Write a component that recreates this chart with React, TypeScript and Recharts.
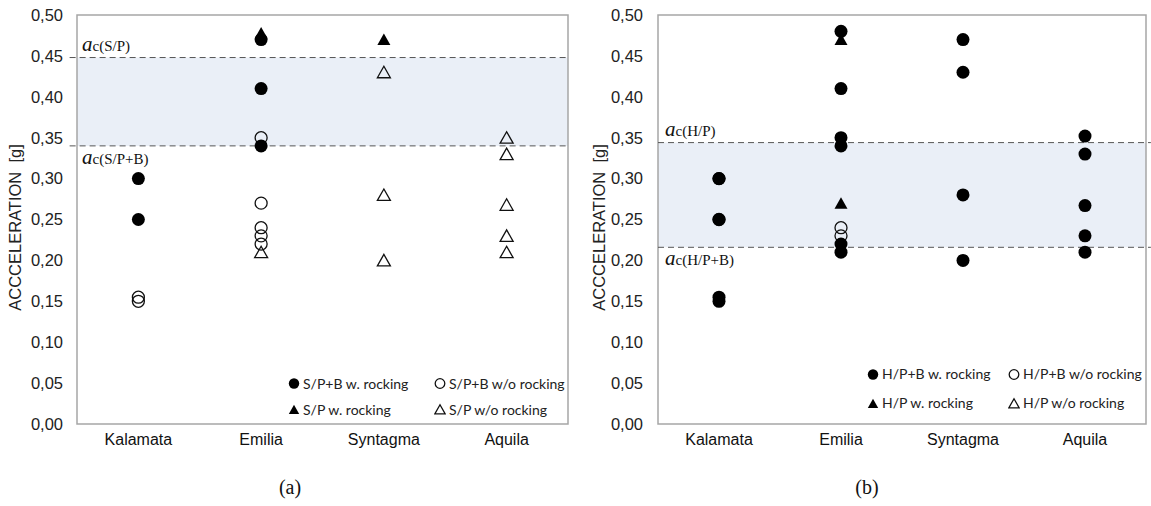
import React from "react";
import {
  ScatterChart,
  Scatter,
  XAxis,
  YAxis,
  ReferenceArea,
  ReferenceLine,
  Legend,
} from "recharts";

const sites = ["Kalamata", "Emilia", "Syntagma", "Aquila"];
const yTicks = [0, 0.05, 0.1, 0.15, 0.2, 0.25, 0.3, 0.35, 0.4, 0.45, 0.5];

type Row = { site: string; acc: number };

// panel (a): S/P and S/P+B
const spbRockA: Row[] = [
  { site: "Kalamata", acc: 0.3 },
  { site: "Kalamata", acc: 0.25 },
  { site: "Emilia", acc: 0.47 },
  { site: "Emilia", acc: 0.41 },
  { site: "Emilia", acc: 0.34 },
];
const spbNoRockA: Row[] = [
  { site: "Kalamata", acc: 0.155 },
  { site: "Kalamata", acc: 0.15 },
  { site: "Emilia", acc: 0.35 },
  { site: "Emilia", acc: 0.27 },
  { site: "Emilia", acc: 0.24 },
  { site: "Emilia", acc: 0.23 },
  { site: "Emilia", acc: 0.22 },
];
const spRockA: Row[] = [
  { site: "Emilia", acc: 0.478 },
  { site: "Syntagma", acc: 0.47 },
];
const spNoRockA: Row[] = [
  { site: "Emilia", acc: 0.21 },
  { site: "Syntagma", acc: 0.43 },
  { site: "Syntagma", acc: 0.28 },
  { site: "Syntagma", acc: 0.2 },
  { site: "Aquila", acc: 0.35 },
  { site: "Aquila", acc: 0.33 },
  { site: "Aquila", acc: 0.268 },
  { site: "Aquila", acc: 0.23 },
  { site: "Aquila", acc: 0.21 },
];

// panel (b): H/P and H/P+B
const hpbRockB: Row[] = [
  { site: "Kalamata", acc: 0.3 },
  { site: "Kalamata", acc: 0.25 },
  { site: "Kalamata", acc: 0.155 },
  { site: "Kalamata", acc: 0.15 },
  { site: "Emilia", acc: 0.48 },
  { site: "Emilia", acc: 0.41 },
  { site: "Emilia", acc: 0.35 },
  { site: "Emilia", acc: 0.34 },
  { site: "Emilia", acc: 0.22 },
  { site: "Emilia", acc: 0.21 },
  { site: "Syntagma", acc: 0.47 },
  { site: "Syntagma", acc: 0.43 },
  { site: "Syntagma", acc: 0.28 },
  { site: "Syntagma", acc: 0.2 },
  { site: "Aquila", acc: 0.352 },
  { site: "Aquila", acc: 0.33 },
  { site: "Aquila", acc: 0.267 },
  { site: "Aquila", acc: 0.23 },
  { site: "Aquila", acc: 0.21 },
];
const hpbNoRockB: Row[] = [
  { site: "Kalamata", acc: 0.3 },
  { site: "Kalamata", acc: 0.25 },
  { site: "Emilia", acc: 0.24 },
  { site: "Emilia", acc: 0.23 },
];
const hpRockB: Row[] = [
  { site: "Emilia", acc: 0.47 },
  { site: "Emilia", acc: 0.27 },
];
const hpNoRockB: Row[] = [];

// critical accelerations (shaded band limits)
const critA = { upper: 0.448, lower: 0.34 };
const critB = { upper: 0.344, lower: 0.216 };

const legendA = ["S/P+B w. rocking", "S/P+B w/o rocking", "S/P w. rocking", "S/P w/o rocking"];
const legendB = ["H/P+B w. rocking", "H/P+B w/o rocking", "H/P w. rocking", "H/P w/o rocking"];

const CHART_H = 460;
const PLOT_TOP = 15;
const PLOT_BOTTOM = 424;
const SANS = "'Liberation Sans', Arial, sans-serif";
const SERIF = "'Liberation Serif', 'Times New Roman', serif";

const toXY = (rows: Row[]) =>
  rows.map((r) => ({ x: sites.indexOf(r.site) + 0.5, y: r.acc }));

type Kind = "dot" | "ring" | "tri" | "otri";
const kinds: Kind[] = ["dot", "ring", "tri", "otri"];

const Marker = ({ kind, cx, cy, s = 1 }: { kind: Kind; cx: number; cy: number; s?: number }) => {
  if (kind === "dot") return <circle cx={cx} cy={cy} r={6.5 * s} fill="#000" />;
  if (kind === "ring")
    return <circle cx={cx} cy={cy} r={6 * s} fill="none" stroke="#111" strokeWidth={1.3} />;
  const pts = `${cx},${cy - 6 * s} ${cx - 6.5 * s},${cy + 5.5 * s} ${cx + 6.5 * s},${cy + 5.5 * s}`;
  if (kind === "tri") return <polygon points={pts} fill="#000" />;
  return <polygon points={pts} fill="none" stroke="#111" strokeWidth={1.3} />;
};

const shapeOf = (kind: Kind) => (p: any) => <Marker kind={kind} cx={p.cx} cy={p.cy} />;

const CritLabel = (x: number, dy: number, sub: string) => (props: any) => {
  const vb = props.viewBox || {};
  return (
    <text x={x} y={(vb.y ?? 0) + dy} fontFamily={SERIF} fill="#111">
      <tspan fontStyle="italic" fontSize={21}>
        a
      </tspan>
      <tspan fontSize={15}>c({sub})</tspan>
    </text>
  );
};

const LegendBox = ({ items, colW, rowH }: { items: string[]; colW: number; rowH: number }) => (
  <div
    style={{
      display: "grid",
      gridTemplateColumns: `${colW}px ${colW}px`,
      gridAutoRows: `${rowH}px`,
      fontFamily: "Lato, 'Open Sans', sans-serif",
      fontSize: 14,
      color: "#222",
    }}
  >
    {items.map((label, i) => (
      <div key={label} style={{ display: "flex", alignItems: "center" }}>
        <svg width={12} height={12} style={{ marginRight: 3 }}>
          <Marker kind={kinds[i]} cx={6} cy={6.5} s={0.8} />
        </svg>
        <span>{label}</span>
      </div>
    ))}
  </div>
);

type PanelProps = {
  width: number;
  axisW: number;
  right: number;
  tickGap: number;
  titleX: number;
  series: Row[][];
  crit: { upper: number; lower: number };
  tag: string;
  lineFrom: number;
  lineTo: number;
  labelX: number;
  legend: string[];
  legendPos: { left: number; top: number; colW: number; rowH: number };
};

const Panel = (p: PanelProps) => {
  // open markers first so the filled ones sit on top
  const order = [1, 3, 0, 2];
  return (
    <ScatterChart
      width={p.width}
      height={CHART_H}
      margin={{ top: PLOT_TOP, right: p.right, bottom: CHART_H - PLOT_BOTTOM - 30, left: 0 }}
    >
      <XAxis
        type="number"
        dataKey="x"
        domain={[0, 4]}
        ticks={[0.5, 1.5, 2.5, 3.5]}
        tickFormatter={(v) => sites[Math.floor(v)]}
        axisLine={false}
        tickLine={false}
        height={30}
        tickMargin={4}
        tick={{ fontFamily: SANS, fontSize: 16, fill: "#111" }}
      />
      <YAxis
        type="number"
        dataKey="y"
        domain={[0, 0.5]}
        ticks={yTicks}
        interval={0}
        width={p.axisW}
        tickFormatter={(v) => v.toFixed(2).replace(".", ",")}
        axisLine={false}
        tickLine={false}
        tickMargin={p.tickGap}
        tick={{ fontFamily: SANS, fontSize: 16.5, fill: "#222" }}
        label={{
          content: () => {
            const cy = (PLOT_TOP + PLOT_BOTTOM) / 2 + 8;
            return (
              <text
                x={p.titleX}
                y={cy}
                transform={`rotate(-90 ${p.titleX} ${cy})`}
                textAnchor="middle"
                dominantBaseline="central"
                fontFamily={SANS}
                fontSize={16.5}
                fill="#222"
              >
                {"ACCCELERATION\u00a0\u00a0[g]"}
              </text>
            );
          },
        }}
      />
      <ReferenceArea
        x1={0}
        x2={4}
        y1={p.crit.lower}
        y2={p.crit.upper}
        fill="#eaeff7"
        fillOpacity={1}
        stroke="none"
      />
      <ReferenceArea
        x1={0}
        x2={4}
        y1={0}
        y2={0.5}
        fill="none"
        stroke="#a6a6a6"
        strokeWidth={1.5}
      />
      <ReferenceLine
        segment={[
          { x: p.lineFrom, y: p.crit.upper },
          { x: p.lineTo, y: p.crit.upper },
        ]}
        ifOverflow="visible"
        stroke="#555"
        strokeDasharray="6 4"
        label={{ content: CritLabel(p.labelX, -7, p.tag) }}
      />
      <ReferenceLine
        segment={[
          { x: p.lineFrom, y: p.crit.lower },
          { x: p.lineTo, y: p.crit.lower },
        ]}
        ifOverflow="visible"
        stroke="#555"
        strokeDasharray="6 4"
        label={{ content: CritLabel(p.labelX, 18, p.tag + "+B") }}
      />
      {order.map((i) => (
        <Scatter
          key={i}
          data={toXY(p.series[i])}
          shape={shapeOf(kinds[i])}
          isAnimationActive={false}
        />
      ))}
      <Legend
        layout="vertical"
        align="center"
        verticalAlign="middle"
        wrapperStyle={{ left: p.legendPos.left, top: p.legendPos.top, width: "auto" }}
        content={() => (
          <LegendBox items={p.legend} colW={p.legendPos.colW} rowH={p.legendPos.rowH} />
        )}
      />
    </ScatterChart>
  );
};

const caption: React.CSSProperties = {
  position: "absolute",
  top: 476,
  fontFamily: SERIF,
  fontSize: 20,
  color: "#111",
  transform: "translateX(-50%)",
};

export default function App() {
  return (
    <div
      style={{
        position: "absolute",
        left: 0,
        top: 0,
        width: 1151,
        height: 506,
        background: "#fff",
      }}
    >
      <div style={{ position: "absolute", left: 0, top: 0 }}>
        <Panel
          width={580}
          axisW={77}
          right={12}
          tickGap={8}
          titleX={15}
          series={[spbRockA, spbNoRockA, spRockA, spNoRockA]}
          crit={critA}
          tag="S/P"
          lineFrom={-0.06}
          lineTo={4}
          labelX={82}
          legend={legendA}
          legendPos={{ left: 288, top: 370, colW: 146, rowH: 26 }}
        />
      </div>
      <div style={{ position: "absolute", left: 580, top: 0 }}>
        <Panel
          width={571}
          axisW={78}
          right={5}
          tickGap={9}
          titleX={19}
          series={[hpbRockB, hpbNoRockB, hpRockB, hpNoRockB]}
          crit={critB}
          tag="H/P"
          lineFrom={0}
          lineTo={4.04}
          labelX={85}
          legend={legendB}
          legendPos={{ left: 287, top: 359, colW: 141, rowH: 29 }}
        />
      </div>
      <div style={{ ...caption, left: 290 }}>(a)</div>
      <div style={{ ...caption, left: 867 }}>(b)</div>
    </div>
  );
}
